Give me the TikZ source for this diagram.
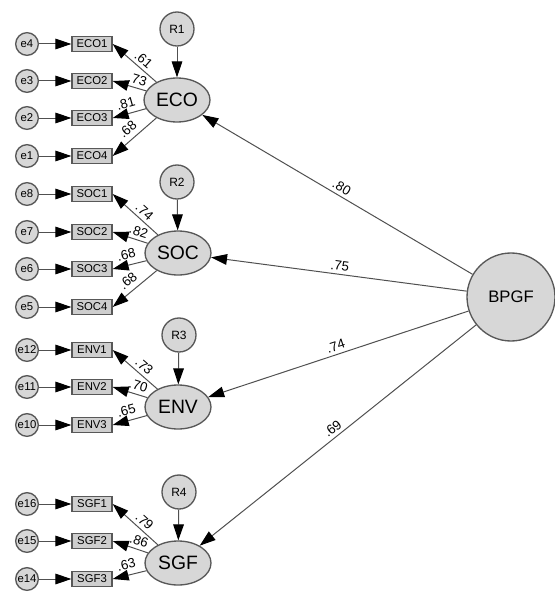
\documentclass[tikz,border=0pt]{standalone}
\usepackage{fontspec}
\setmainfont{Liberation Sans}
\usetikzlibrary{arrows.meta,shapes.geometric}

\definecolor{shapegray}{RGB}{215,215,215}
\definecolor{boxgray}{RGB}{206,206,206}
\definecolor{edgegray}{RGB}{88,88,88}
\definecolor{linegray}{RGB}{80,80,80}

\tikzset{every picture/.style={line width=0.75pt}}
\tikzset{
  errc/.style={circle, draw=edgegray, fill=shapegray, line width=1pt, minimum size=17pt, inner sep=0pt, font=\fontsize{8.5}{9}\selectfont},
  resc/.style={circle, draw=edgegray, fill=shapegray, line width=1pt, minimum size=25.5pt, inner sep=0pt, font=\fontsize{9}{10}\selectfont},
  obsbox/.style={rectangle, draw=edgegray, fill=boxgray, line width=1pt, minimum width=30pt, minimum height=11.25pt, inner sep=0pt, font=\fontsize{8.5}{9}\selectfont},
  latent/.style={ellipse, draw=edgegray, fill=shapegray, line width=1pt, minimum width=49.5pt, minimum height=33pt, inner sep=0pt, font=\fontsize{14.5}{16}\selectfont},
  factor/.style={circle, draw=edgegray, fill=shapegray, line width=1pt, minimum size=66pt, inner sep=0pt, font=\fontsize{12.5}{14}\selectfont},
  regline/.style={draw=linegray, line width=0.75pt, -{Triangle[length=12pt,width=8pt,color=black]}},
  coef/.style={font=\fontsize{10}{11}\selectfont, sloped, above, inner sep=2.5pt},
  coeflow/.style={coef, inner sep=4pt},
}

\begin{document}
\begin{tikzpicture}[x=0.75pt,y=-0.75pt]
\useasboundingbox (0,0) rectangle (554,592);

%Shape: Circle (second order factor)
\draw (511,297) node [factor] (BPGF) {BPGF};

%Shape: Ellipse (first order factors)
\draw (177,100) node [latent] (ECO) {ECO};
\draw (178,253) node [latent] (SOC) {SOC};
\draw (178,407) node [latent] (ENV) {ENV};
\draw (178,563) node [latent] (SGF) {SGF};

%Shape: Circle (residuals)
\draw (177,29) node [resc] (R1) {R1};
\draw (177,182) node [resc] (R2) {R2};
\draw (179,335) node [resc] (R3) {R3};
\draw (179,492) node [resc] (R4) {R4};

%Shape: Rectangle (ECO items)
\draw (92,44) node [obsbox] (ECO1) {ECO1};
\draw (92,81) node [obsbox] (ECO2) {ECO2};
\draw (92,118) node [obsbox] (ECO3) {ECO3};
\draw (92,156) node [obsbox] (ECO4) {ECO4};
%Shape: Rectangle (SOC items)
\draw (92,194) node [obsbox] (SOC1) {SOC1};
\draw (92,232) node [obsbox] (SOC2) {SOC2};
\draw (92,269) node [obsbox] (SOC3) {SOC3};
\draw (92,307) node [obsbox] (SOC4) {SOC4};
%Shape: Rectangle (ENV items)
\draw (92,350) node [obsbox] (ENV1) {ENV1};
\draw (92,387) node [obsbox] (ENV2) {ENV2};
\draw (92,425) node [obsbox] (ENV3) {ENV3};
%Shape: Rectangle (SGF items)
\draw (92,504) node [obsbox] (SGF1) {SGF1};
\draw (92,541) node [obsbox] (SGF2) {SGF2};
\draw (92,579) node [obsbox] (SGF3) {SGF3};

%Shape: Circle (errors)
\draw (27,44) node [errc] (e4) {e4};
\draw (27,81) node [errc] (e3) {e3};
\draw (27,118) node [errc] (e2) {e2};
\draw (27,156) node [errc] (e1) {e1};
\draw (27,194) node [errc] (e8) {e8};
\draw (27,232) node [errc] (e7) {e7};
\draw (27,269) node [errc] (e6) {e6};
\draw (27,307) node [errc] (e5) {e5};
\draw (27,350) node [errc] (e12) {e12};
\draw (27,387) node [errc] (e11) {e11};
\draw (27,425) node [errc] (e10) {e10};
\draw (27,504) node [errc] (e16) {e16};
\draw (27,541) node [errc] (e15) {e15};
\draw (27,579) node [errc] (e14) {e14};

%Straight Lines (errors to items)
\draw [regline] (e4) -- (ECO1);
\draw [regline] (e3) -- (ECO2);
\draw [regline] (e2) -- (ECO3);
\draw [regline] (e1) -- (ECO4);
\draw [regline] (e8) -- (SOC1);
\draw [regline] (e7) -- (SOC2);
\draw [regline] (e6) -- (SOC3);
\draw [regline] (e5) -- (SOC4);
\draw [regline] (e12) -- (ENV1);
\draw [regline] (e11) -- (ENV2);
\draw [regline] (e10) -- (ENV3);
\draw [regline] (e16) -- (SGF1);
\draw [regline] (e15) -- (SGF2);
\draw [regline] (e14) -- (SGF3);

%Straight Lines (residuals)
\draw [regline] (R1) -- (ECO);
\draw [regline] (R2) -- (SOC);
\draw [regline] (R3) -- (ENV);
\draw [regline] (R4) -- (SGF);

%Straight Lines (loadings)
\draw [regline] (ECO) -- (ECO1.east) node [coef, pos=0.42] {.61};
\draw [regline] (ECO) -- (ECO2.east) node [coef, pos=0.33] {.73};
\draw [regline] (ECO) -- (ECO3.east) node [coeflow, pos=0.52] {.81};
\draw [regline] (ECO) -- (ECO4.east) node [coeflow, pos=0.5] {.68};
\draw [regline] (SOC) -- (SOC1.east) node [coef, pos=0.42] {.74};
\draw [regline] (SOC) -- (SOC2.east) node [coef, pos=0.33] {.82};
\draw [regline] (SOC) -- (SOC3.east) node [coeflow, pos=0.52] {.68};
\draw [regline] (SOC) -- (SOC4.east) node [coeflow, pos=0.5] {.68};
\draw [regline] (ENV) -- (ENV1.east) node [coef, pos=0.42] {.73};
\draw [regline] (ENV) -- (ENV2.east) node [coef, pos=0.33] {.70};
\draw [regline] (ENV) -- (ENV3.east) node [coeflow, pos=0.52] {.65};
\draw [regline] (SGF) -- (SGF1.east) node [coef, pos=0.42] {.79};
\draw [regline] (SGF) -- (SGF2.east) node [coef, pos=0.33] {.86};
\draw [regline] (SGF) -- (SGF3.east) node [coeflow, pos=0.52] {.63};

%Straight Lines (second order paths)
\draw [regline] (BPGF) -- (ECO) node [coef, pos=0.5] {.80};
\draw [regline] (BPGF) -- (SOC) node [coef, pos=0.5] {.75};
\draw [regline] (BPGF) -- (ENV) node [coef, pos=0.5] {.74};
\draw [regline] (BPGF) -- (SGF) node [coef, pos=0.5] {.69};

\end{tikzpicture}
\end{document}
